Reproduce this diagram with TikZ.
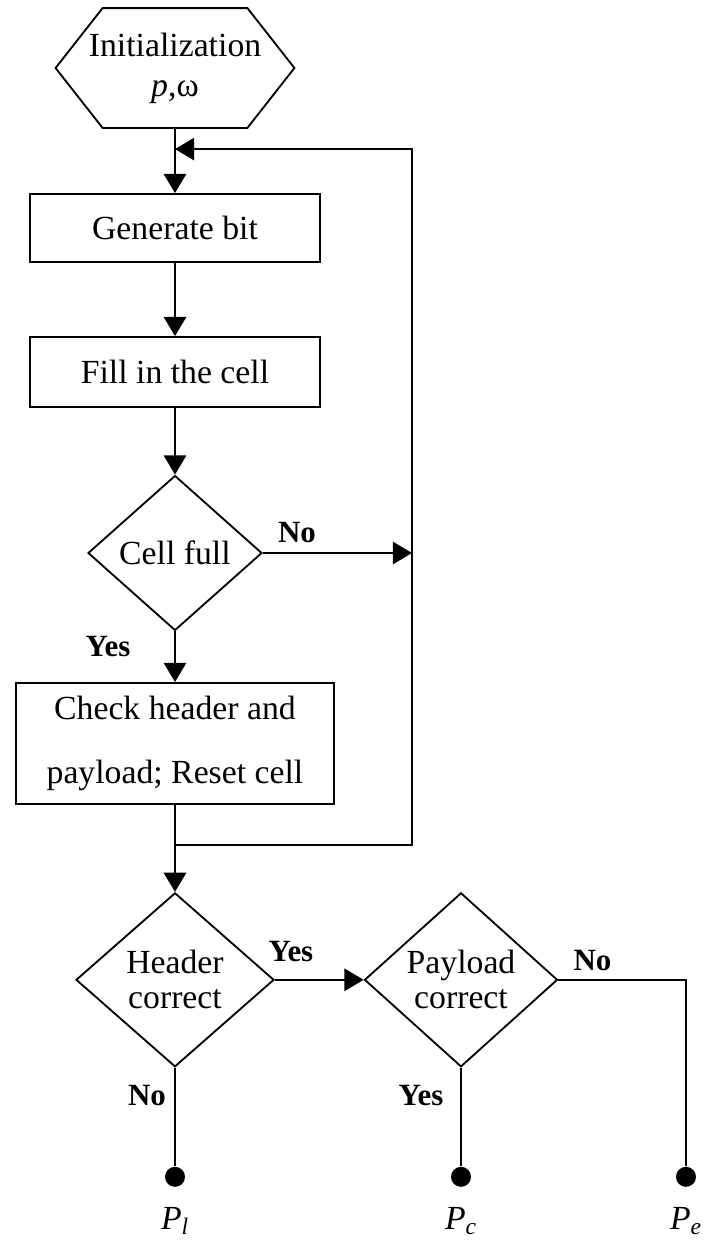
\documentclass[tikz,border=0pt]{standalone}
\usepackage{fontspec}
\setmainfont{Liberation Serif}
\usetikzlibrary{positioning,arrows.meta,shapes.geometric}

\begin{document}
\begin{tikzpicture}[on grid, line width=1.3pt, font=\fontsize{24}{25}\selectfont]
    \tikzstyle{box}=[draw, minimum width=7.25cm, inner sep=0pt]
    \tikzstyle{test}=[draw, diamond, aspect=1.1, inner sep=0pt, align=center]
    \tikzstyle{lbl}=[font=\bfseries\fontsize{22}{24}\selectfont]
    \tikzstyle{flow}=[-{Triangle[length=0.48cm,width=0.56cm]}]
    \tikzstyle{sink}=[circle, fill, minimum size=0.5cm, inner sep=0pt]
    \useasboundingbox (-4.375,1.7) rectangle (13.225,-29.375);
    \node[minimum width=5.925cm, minimum height=2.95cm, inner sep=0pt, align=center, font=\fontsize{24}{28.5}\selectfont] (init) {Initialization\\{\itshape p},ω};
    \draw (init.west) -- ([xshift=1.175cm]init.north west) -- ([xshift=-1.175cm]init.north east) -- (init.east) -- ([xshift=-1.175cm]init.south east) -- ([xshift=1.175cm]init.south west) -- cycle;
    \node[box, minimum height=1.7cm, below=4cm of init] (genbit) {Generate bit};
    \node[box, minimum height=1.75cm, below=3.6cm of genbit] (fill) {Fill in the cell};
    \node[test, minimum width=4.35cm, minimum height=3.875cm, below=4.525cm of fill] (full) {Cell full};
    \node[box, minimum width=7.95cm, minimum height=3.025cm, align=center, below=4.76cm of full] (check) {Check header and\\[21pt]payload; Reset cell};
    \node[test, minimum width=4.95cm, minimum height=4.35cm, below=5.91cm of check] (hdr) {Header\\correct};
    \node[test, minimum width=4.825cm, minimum height=4.35cm, right=7.15cm of hdr] (pld) {Payload\\correct};
    \node[sink, below=4.925cm of hdr] (pl) {};
    \node[sink, below=4.925cm of pld] (pc) {};
    \node[sink, right=5.625cm of pc] (pe) {};
    \node[below=1.1cm of pl] (plname) {\textit{P}\textsubscript{\textit{l}}};
    \node[below=1.1cm of pc] (pcname) {\textit{P}\textsubscript{\textit{c}}};
    \node[below=1.1cm of pe] (pename) {\textit{P}\textsubscript{\textit{e}}};
    % loop back points
    \coordinate[above=1.1cm of genbit.north] (top);
    \coordinate[right=5.925cm of full] (side);
    \coordinate[below=1cm of check.south] (merge);
    \draw[flow] (init) -- (genbit);
    \draw[flow] (genbit) -- (fill);
    \draw[flow] (fill) -- (full);
    \draw[flow] (full) -- (check);
    \draw[flow] (full) -- (side);
    \draw[flow] (merge) -| (side |- top) -- (top);
    \draw[flow] (check) -- (hdr);
    \draw[flow] (hdr) -- (pld);
    \draw (hdr) -- (pl);
    \draw (pld) -- (pc);
    \draw (pld) -| (pe);
    % branch labels
    \node[lbl] (nofull) at ([xshift=0.85cm, yshift=0.5cm]full.east) {No};
    \node[lbl] (yesfull) at ([xshift=-1.675cm, yshift=-0.375cm]full.south) {Yes};
    \node[lbl] (yeshdr) at ([xshift=0.4cm, yshift=0.7cm]hdr.east) {Yes};
    \node[lbl] (nopld) at ([xshift=0.85cm, yshift=0.475cm]pld.east) {No};
    \node[lbl] (nohdr) at ([xshift=-0.7cm, yshift=-0.7cm]hdr.south) {No};
    \node[lbl] (yespld) at ([xshift=-1.0cm, yshift=-0.7cm]pld.south) {Yes};
\end{tikzpicture}
\end{document}
